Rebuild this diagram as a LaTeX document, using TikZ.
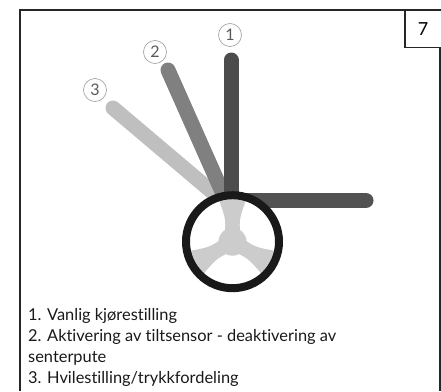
\documentclass[tikz,border=0pt]{standalone}
\usepackage{fontspec}
\setmainfont{Lato}[Ligatures=NoCommon]
\usetikzlibrary{calc}
\begin{document}
\begin{tikzpicture}[x=1pt,y=-1pt,
  frameline/.style={line width=1.2pt,draw=black!85},
  lever/.style={line width=15pt,line cap=round},
  hub/.style={fill=black!20},
  tag/.style={circle,draw=black!35,line width=0.7pt,inner sep=0pt,minimum size=23pt,
    text=black!65,font=\fontsize{16}{16}\selectfont},
  caption/.style={anchor=base west,inner sep=0pt,font=\fontsize{16.4}{18}\selectfont,text=black!90}]
\useasboundingbox (0,0) rectangle (441,391);

% outer frame and figure number box
\draw[frameline] (20,391) -- (20,10) -- (441,10);
\draw[frameline] (405,10) -- (405,47.5) -- (440,47.5) -- (440,391);
\node (num) at (423,29) {\fontsize{18}{18}\selectfont 7};

% lever positions
\coordinate (p3) at (217,196);
\coordinate (p2) at (224,196);
\coordinate (p1) at (231,198);
\coordinate (ph) at (231,200.5);
\coordinate (t3) at (113,108);
\coordinate (t2) at (168,70);
\coordinate (t1) at (231,60);
\coordinate (th) at (366,200.5);

\draw[lever,draw=black!25] (p3) -- (t3);
\draw[lever,draw=black!50] (p2) -- (t2);
\draw[lever,draw=black!70] (p1) -- (t1);
\draw[lever,draw=black!68] (ph) -- (th);

% wheel: white disc, three concave hub arms, dark tyre
\coordinate (wc) at (232.5,241.7);
\fill[white] (wc) circle[radius=44];
\fill[hub] (wc) circle[radius=14];
\foreach \b in {270,150,30}{
  \fill[hub] ($(wc)+(\b+90:9)$)
     .. controls ($(wc)+(\b+16:22)$) .. ($(wc)+(\b+18:46)$)
     arc[start angle=\b+18,end angle=\b-18,radius=46]
     .. controls ($(wc)+(\b-16:22)$) .. ($(wc)+(\b-90:9)$) -- cycle;
}
\draw[line width=8pt,draw=black!90] (wc) circle[radius=46.5];

% position tags
\node[tag] (n1) at (230,35) {1};
\node[tag] (n2) at (155,52) {2};
\node[tag] (n3) at (95,90) {3};

% legend
\node[caption] (l1) at (28,320) {1. Vanlig kjørestilling};
\node[caption] (l2) at (28,341) {2. Aktivering av tiltsensor - deaktivering av};
\node[caption] (l3) at (28,362) {senterpute};
\node[caption] (l4) at (28,383) {3. Hvilestilling/trykkfordeling};
\end{tikzpicture}
\end{document}
